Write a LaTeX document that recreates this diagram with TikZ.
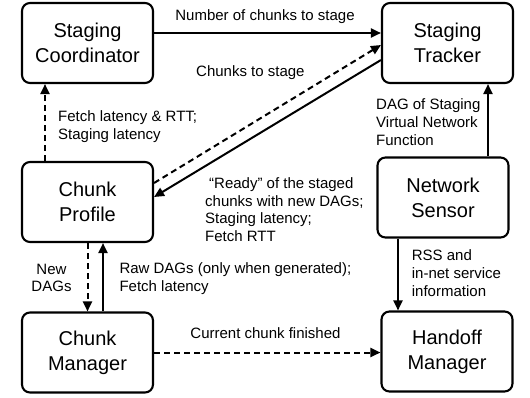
\documentclass[tikz,border=0pt]{standalone}
\usepackage{fontspec}
\setmainfont{Liberation Sans}
\usetikzlibrary{arrows.meta}
\tikzset{
  box/.style={draw, line width=2.1pt, rounded corners=8pt, minimum width=131pt, minimum height=80pt, align=center, inner sep=0pt, font=\fontsize{20}{25}\selectfont},
  lbl/.style={inner sep=0pt, align=left, font=\fontsize{15}{17.5}\selectfont},
  conn/.style={line width=2pt, -{Triangle[length=10pt,width=9pt]}},
  dsh/.style={dash pattern=on 6pt off 4pt}
}
\begin{document}
\begin{tikzpicture}[x=1pt,y=-1pt]
\useasboundingbox (0,0) rectangle (530,397);
\node[box] (SC) at (87.5,43) {Staging\\Coordinator};
\node[box] (ST) at (447.5,43) {Staging\\Tracker};
\node[box] (CP) at (87.5,202) {Chunk\\Profile};
\node[box] (NS) at (443,197.5) {Network\\Sensor};
\node[box] (CM) at (87.5,352.5) {Chunk\\Manager};
\node[box] (HM) at (447,351.5) {Handoff\\Manager};

\draw[conn] ([yshift=10pt]SC.east) -- ([yshift=10pt]ST.west);
\draw[conn,dsh] ([yshift=19pt]CP.east) -- ([yshift=-2pt]ST.west);
\draw[conn] ([yshift=-17pt]ST.west) -- ([yshift=5pt]CP.east);
\draw[conn,dsh] ([xshift=-42.5pt]CP.north) -- ([xshift=-42.5pt]SC.south);
\draw[conn] ([xshift=45pt]NS.north) -- ([xshift=45pt]NS.north |- ST.south);
\draw[conn] ([xshift=-45pt]NS.south) -- ([xshift=-45pt]NS.south |- HM.north);
\draw[conn,dsh] (CP.south) -- (CM.north);
\draw[conn] ([xshift=15.5pt]CM.north) -- ([xshift=15.5pt]CP.south);
\draw[conn,dsh] (CM.east) -- (CM.east -| HM.west);

\node[lbl,anchor=base] (l1) at (265,20.5) {Number of chunks to stage};
\node[lbl,anchor=base west] (l2) at (196,76) {Chunks to stage};
\node[lbl,anchor=base west] (l3) at (58,139) {Fetch latency \& RTT;\\Staging latency};
\node[lbl,anchor=base west,font=\fontsize{15}{18}\selectfont] (l4) at (376,145.7) {DAG of Staging\\Virtual Network\\Function};
\node[lbl,anchor=base west] (l5) at (205,241) {\hspace*{4pt}“Ready” of the staged\\chunks with new DAGs;\\Staging latency;\\Fetch RTT};
\node[lbl,anchor=base,align=center] (l6) at (51.5,291.7) {New\\DAGs};
\node[lbl,anchor=base west] (l7) at (119.3,291) {Raw DAGs (only when generated);\\Fetch latency};
\node[lbl,anchor=base west,font=\fontsize{15}{18}\selectfont] (l8) at (411.7,296.7) {RSS and\\in-net service\\information};
\node[lbl,anchor=base] (l9) at (265.5,338.3) {Current chunk finished};
\end{tikzpicture}
\end{document}
